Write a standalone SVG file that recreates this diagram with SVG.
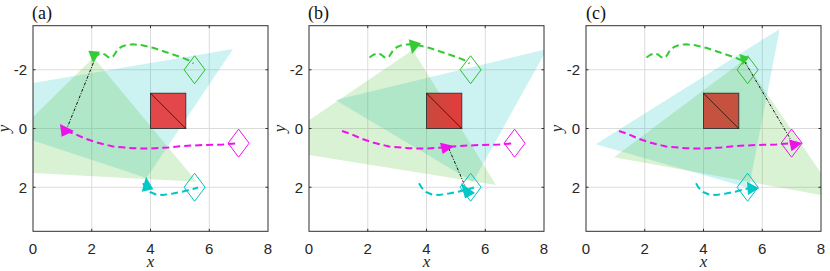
<svg xmlns="http://www.w3.org/2000/svg" width="830" height="271" viewBox="0 0 830 271">
<style>
.grid{stroke:#dcdcdc;stroke-width:1;fill:none}
.frame{fill:none;stroke:#2e2e2e;stroke-width:1}
.tick{stroke:#2e2e2e;stroke-width:1;fill:none}
.tl{font-family:"Liberation Sans",Arial,sans-serif;font-size:15px;fill:#262626}
.lab{font-family:"Liberation Serif","Times New Roman",serif;font-size:18px;fill:#111}
.axl{font-family:"Liberation Serif","Times New Roman",serif;font-style:italic;font-size:17px;fill:#262626}
.fovc{fill:#00c0c0;fill-opacity:.2}
.fovg{fill:#46be28;fill-opacity:.2}
.sq{stroke:#3a3a3a;stroke-width:1}
.diag{stroke:#111;stroke-width:.8}
.trj{fill:none;stroke-width:2;stroke-dasharray:7 4;stroke-linejoin:round;stroke-linecap:butt}
.g{stroke:#33cc33}.m{stroke:#ee11ee}.c{stroke:#00c8c8}
.dia{fill:none;stroke-width:1}
.fg{fill:#33cc33}.fm{fill:#ee11ee}.fc{fill:#00c8c8}
.link{fill:none;stroke:#111;stroke-width:1;stroke-dasharray:3 1.5 1 1.5}
</style>
<defs>
<clipPath id="clip" clipPathUnits="userSpaceOnUse"><rect x="0" y="25.7" width="235" height="205.6"/></clipPath>
<linearGradient id="sqb" x1="0" y1="0" x2="1" y2="0"><stop offset="0" stop-color="#c64a3c"/><stop offset="1" stop-color="#e43c3c"/></linearGradient>
<g id="gridlines">
<path class="grid" d="M58.75,25.7V231.3M117.5,25.7V231.3M176.25,25.7V231.3M0,69.75H235M0,128.5H235M0,187.25H235"/>
</g>
<g id="frameset">
<rect class="frame" x="0" y="25.7" width="235" height="205.6"/>
<path class="tick" d="M58.75,231.3v-2.5M117.5,231.3v-2.5M176.25,231.3v-2.5M58.75,25.7v2.5M117.5,25.7v2.5M176.25,25.7v2.5M0,69.75h2.5M0,128.5h2.5M0,187.25h2.5M235,69.75h-2.5M235,128.5h-2.5M235,187.25h-2.5"/>
<text class="tl" x="0" y="254" text-anchor="middle">0</text>
<text class="tl" x="58.75" y="254" text-anchor="middle">2</text>
<text class="tl" x="117.5" y="254" text-anchor="middle">4</text>
<text class="tl" x="176.25" y="254" text-anchor="middle">6</text>
<text class="tl" x="235" y="254" text-anchor="middle">8</text>
<text class="tl" x="-6" y="75.2" text-anchor="end">-2</text>
<text class="tl" x="-6" y="133.9" text-anchor="end">0</text>
<text class="tl" x="-6" y="192.6" text-anchor="end">2</text>
<text class="axl" x="117.5" y="267" text-anchor="middle">x</text>
<text class="axl" transform="translate(-24,128.5) rotate(-90)" text-anchor="middle">y</text>
</g>
<g id="trajs">
<polyline class="trj g" points="60.5,57.5 64,55 68,53.5 72,54.5 75,57 78,58 80.5,56 84,50.5 88,47 93,45 100,44.3 108,45 120,47.8 131,51.5 140,54.5 149,57.5 155,60 160.5,63.5"/>
<polyline class="trj m" points="33,131 42,134 52,138.5 64,142.5 80,146.5 100,148.3 117,148.5 135,147.5 150,146 170,145 190,144.5 205.6,143.3"/>
<polyline class="trj c" points="110,183.3 112.5,187.5 117,192 123,194.5 130,195 140,193.5 150,191.5 160,189 165,187.5"/>
</g>
<g id="targets">
<path class="dia" stroke="#33bb33" d="M161.6,55.75L172.1,69.75L161.6,83.75L151.1,69.75Z"/>
<path class="dia" stroke="#ee11ee" d="M205.6,129.2L216.1,143.2L205.6,157.2L195.1,143.2Z"/>
<path class="dia" stroke="#00c0c0" d="M161.6,173.25L172.1,187.25L161.6,201.25L151.1,187.25Z"/>
</g>
</defs>

<!-- Panel (a) -->
<g id="panel-a" transform="translate(33,0)">
<use href="#gridlines"/>
<g id="a-fov" clip-path="url(#clip)">
<polygon class="fovc" points="113.5,178 200,49 -115,102.5"/>
<polygon class="fovg" points="60.5,57.5 163.7,181.7 -54,170"/>
</g>
<g id="a-obstacle"><rect class="sq" x="117.5" y="93.25" width="35.25" height="35.25" fill="#e2474a"/><line class="diag" x1="117.5" y1="93.25" x2="152.75" y2="128.5"/></g>
<g id="a-connectors">
<use href="#trajs"/>
<line class="link" x1="60.3" y1="63" x2="33.7" y2="129"/>
</g>
<g id="a-targets"><use href="#targets"/></g>
<g id="a-agent-green"><polygon class="fg" points="55.3,50.7 67,51.7 60.3,63.3"/></g>
<g id="a-agent-magenta"><polygon class="fm" points="27,124 28.7,136.7 41,131"/></g>
<g id="a-agent-cyan"><polygon class="fc" points="113,176.7 108.7,191.7 120.3,189.3"/></g>
<use href="#frameset"/>
<text class="lab" x="-1" y="19">(a)</text>
</g>

<!-- Panel (b) -->
<g id="panel-b" transform="translate(309,0)">
<use href="#gridlines"/>
<g id="b-fov" clip-path="url(#clip)">
<polygon class="fovc" points="26.3,100 238,49 164,182"/>
<polygon class="fovg" points="103.7,50 187,185 -41.5,148.3"/>
</g>
<g id="b-obstacle"><rect class="sq" x="117.5" y="93.25" width="35.25" height="35.25" fill="url(#sqb)"/><line class="diag" x1="117.5" y1="93.25" x2="152.75" y2="128.5"/></g>
<g id="b-connectors">
<use href="#trajs"/>
<line class="link" x1="139.7" y1="148.3" x2="156.3" y2="186.7"/>
</g>
<g id="b-targets"><use href="#targets"/></g>
<g id="b-agent-green"><polygon class="fg" points="99.7,39.3 112,43.3 103,54"/></g>
<g id="b-agent-magenta"><polygon class="fm" points="131,142.7 145.3,146 133.7,154"/></g>
<g id="b-agent-cyan"><polygon class="fc" points="152,183 166,193 156,198.5"/></g>
<use href="#frameset"/>
<text class="lab" x="-1" y="19">(b)</text>
</g>

<!-- Panel (c) -->
<g id="panel-c" transform="translate(586,0)">
<use href="#gridlines"/>
<g id="c-fov" clip-path="url(#clip)">
<polygon class="fovc" points="9.7,144.3 193.7,29 163,188"/>
<polygon class="fovg" points="158,60 28,157.3 252,198"/>
</g>
<g id="c-obstacle"><rect class="sq" x="117.5" y="93.25" width="35.25" height="35.25" fill="#c5523f"/><line class="diag" x1="117.5" y1="93.25" x2="152.75" y2="128.5"/></g>
<g id="c-connectors">
<use href="#trajs"/>
<line class="link" x1="158.7" y1="61.7" x2="206.3" y2="142.3"/>
</g>
<g id="c-targets"><use href="#targets"/></g>
<g id="c-agent-green"><polygon class="fg" points="153.3,54 163.3,57.3 156.7,65"/></g>
<g id="c-agent-magenta"><polygon class="fm" points="203,139.5 216.3,143 205.5,151.3"/></g>
<g id="c-agent-cyan"><polygon class="fc" points="161,181.7 173,188.3 162,195"/></g>
<use href="#frameset"/>
<text class="lab" x="0" y="19">(c)</text>
</g>
</svg>
